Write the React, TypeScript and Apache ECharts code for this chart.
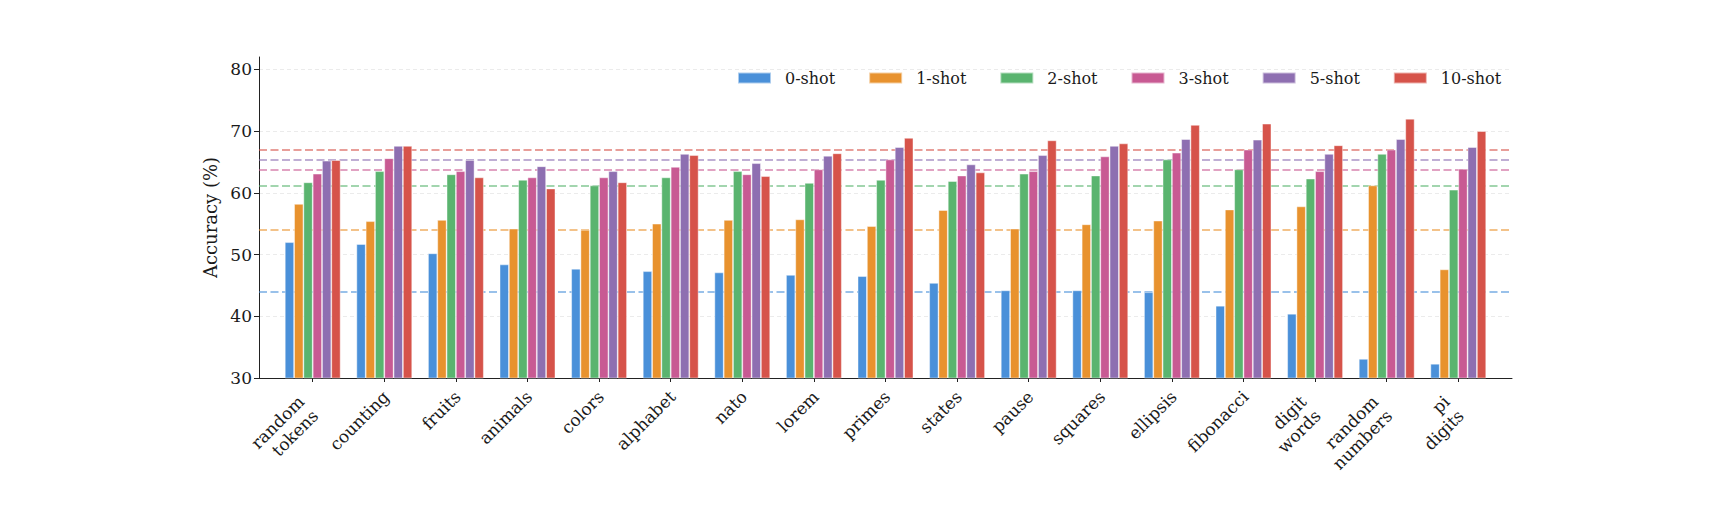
import { useEffect, useRef } from 'react'
import * as echarts from 'echarts'

// task names (x categories)
const categories = [
  'random\ntokens', 'counting', 'fruits', 'animals', 'colors', 'alphabet', 'nato', 'lorem',
  'primes', 'states', 'pause', 'squares', 'ellipsis', 'fibonacci', 'digit\nwords',
  'random\nnumbers', 'pi\ndigits'
]

const shot0 = [52.0, 51.7, 50.2, 48.4, 47.7, 47.3, 47.1, 46.7, 46.5, 45.4, 44.2, 44.2, 43.9, 41.7, 40.4, 33.1, 32.3]
const shot1 = [58.2, 55.4, 55.6, 54.2, 54.0, 55.0, 55.6, 55.7, 54.6, 57.2, 54.2, 54.9, 55.5, 57.3, 57.8, 61.2, 47.6]
const shot2 = [61.7, 63.5, 63.0, 62.1, 61.2, 62.5, 63.5, 61.6, 62.1, 61.9, 63.1, 62.8, 65.4, 63.8, 62.3, 66.3, 60.5]
const shot3 = [63.1, 65.6, 63.5, 62.5, 62.5, 64.2, 63.0, 63.8, 65.4, 62.8, 63.5, 65.9, 66.5, 67.0, 63.5, 67.0, 63.9]
const shot5 = [65.2, 67.6, 65.3, 64.3, 63.5, 66.3, 64.8, 66.0, 67.4, 64.6, 66.1, 67.6, 68.7, 68.6, 66.3, 68.7, 67.4]
const shot10 = [65.3, 67.6, 62.5, 60.7, 61.7, 66.1, 62.7, 66.4, 68.9, 63.3, 68.5, 68.0, 71.0, 71.2, 67.7, 72.0, 70.0]

const seriesNames = ['0-shot', '1-shot', '2-shot', '3-shot', '5-shot', '10-shot']
const seriesColors = ['#4a90d9', '#e8922e', '#5ab46f', '#c85a93', '#8e6fb1', '#d6534a']

// dashed horizontal reference levels, one per shot count
const referenceLines = [44.0, 54.0, 61.1, 63.75, 65.35, 67.0]

const yTicks = [30, 40, 50, 60, 70, 80]

export default function App() {
  const chartRef = useRef<HTMLDivElement>(null)

  useEffect(() => {
    if (!chartRef.current) return
    const chart = echarts.init(chartRef.current, null, { renderer: 'svg' })
    const font = 'DejaVu Serif'
    const textColor = '#1a1a1a'
    const positions = categories.map((_, i) => i)
    const allValues = [shot0, shot1, shot2, shot3, shot5, shot10]

    const series: any[] = allValues.map((values, k) => ({
      name: seriesNames[k],
      type: 'bar',
      data: values.map((v, i) => [positions[i], v]),
      barWidth: 9.3,
      barGap: '0%',
      z: 3,
      itemStyle: {
        color: seriesColors[k],
        borderColor: 'rgba(255,255,255,0.55)',
        borderWidth: 0.8
      },
      markLine: {
        silent: true,
        symbol: 'none',
        z: 1,
        label: { show: false },
        lineStyle: {
          color: seriesColors[k],
          type: [8, 3.5],
          width: 1.5,
          opacity: 0.75
        },
        data: [{ yAxis: referenceLines[k] }]
      }
    }))

    // rotated labels: mimic matplotlib's ha='right' placement for one and two lines
    const formatLabel = (v: number) => {
      const label = categories[Math.round(v)]
      if (!label) return ''
      const lines = label.split('\n')
      if (lines.length === 1) return `{p5| }\n{t|${label}}`
      return '{p13| }\n' + lines.map(l => `{t|${l}}{r| }`).join('\n')
    }

    const option: any = {
      animation: false,
      textStyle: { fontFamily: font },
      legend: {
        data: seriesNames,
        left: 732,
        top: 65,
        itemWidth: 33,
        itemHeight: 11,
        itemGap: 33,
        icon: 'rect',
        textStyle: { fontFamily: font, fontSize: 16, color: textColor, padding: [0, 0, 0, 9] }
      },
      grid: {
        left: 259,
        right: 197,
        top: 57,
        bottom: 131,
        outerBoundsMode: 'none'
      },
      xAxis: {
        type: 'value',
        min: -0.75,
        max: 16.75,
        splitLine: { show: false },
        axisLine: { show: true, onZero: false, lineStyle: { color: '#222', width: 1 } },
        axisTick: {
          show: true,
          length: 4,
          customValues: positions,
          lineStyle: { color: '#222' }
        },
        axisLabel: {
          customValues: positions,
          rotate: 45,
          margin: 14,
          align: 'right',
          verticalAlign: 'middle',
          fontFamily: font,
          fontSize: 17,
          color: textColor,
          formatter: formatLabel,
          rich: {
            t: { fontFamily: font, fontSize: 17, color: textColor, lineHeight: 20 },
            r: { fontSize: 17, lineHeight: 20, width: 13 },
            p5: { fontSize: 4, lineHeight: 5 },
            p13: { fontSize: 4, lineHeight: 13 }
          }
        }
      },
      yAxis: {
        type: 'value',
        min: 30,
        max: 82,
        interval: 10,
        name: 'Accuracy (%)',
        nameLocation: 'middle',
        nameGap: 32,
        nameTextStyle: { fontFamily: font, fontSize: 18, color: textColor },
        axisLine: { show: true, onZero: false, lineStyle: { color: '#222', width: 1 } },
        axisTick: {
          show: true,
          length: 5,
          customValues: yTicks,
          lineStyle: { color: '#222' }
        },
        axisLabel: {
          customValues: yTicks,
          margin: 7,
          fontFamily: font,
          fontSize: 17,
          color: textColor,
          formatter: (v: number) => (v % 10 === 0 ? String(v) : '')
        },
        splitLine: {
          show: true,
          lineStyle: { color: '#e6e6e6', width: 0.8, type: [4, 3] }
        }
      },
      series
    }

    chart.setOption(option)
    return () => {
      chart.dispose()
    }
  }, [])

  return (
    <div
      ref={chartRef}
      style={{ position: 'absolute', left: 0, top: 0, width: 1709, height: 509 }}
    />
  )
}
